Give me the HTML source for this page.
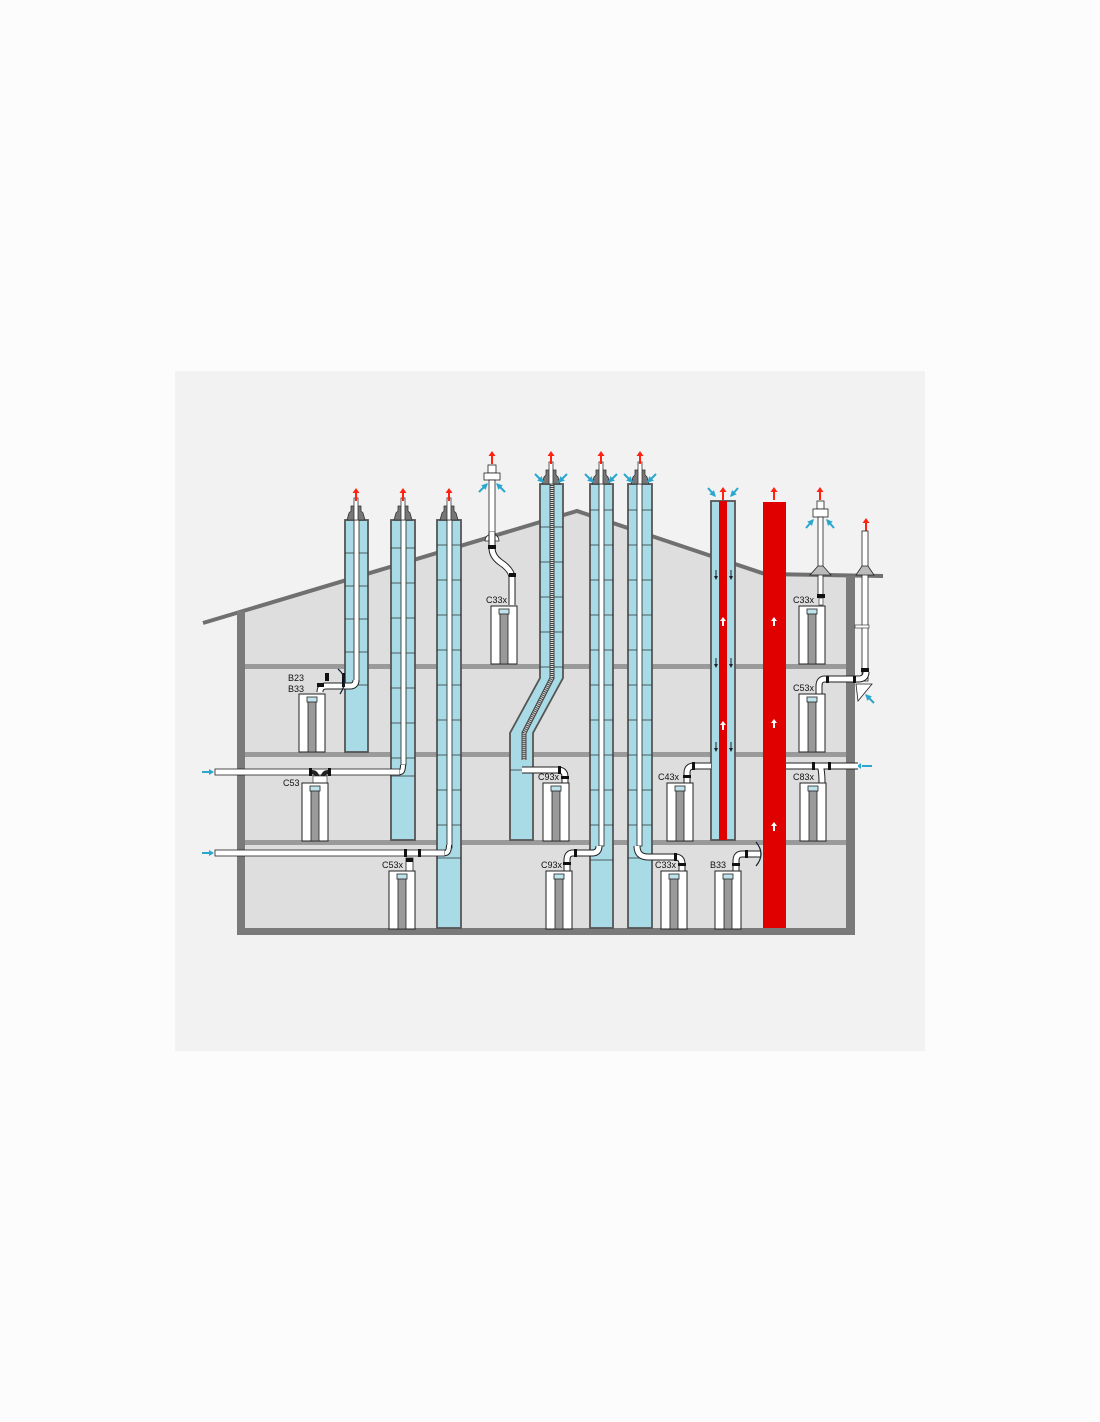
<!DOCTYPE html>
<html><head><meta charset="utf-8"><style>
html,body{margin:0;padding:0;background:#fcfcfc;}
svg{display:block}
text{font-family:"Liberation Sans",sans-serif;font-size:9px;fill:#111}
</style></head><body>
<svg width="1100" height="1422" viewBox="0 0 1100 1422" xmlns="http://www.w3.org/2000/svg">
<defs>
<marker id="bh" viewBox="0 0 10 10" refX="8" refY="5" markerWidth="3.2" markerHeight="3.2" orient="auto"><path d="M0 0 L10 5 L0 10 Z" fill="#2aa7cf"/></marker>
<g id="boiler">
<rect x="0" y="0" width="26" height="58" fill="#fff" stroke="#222" stroke-width="1"/>
<rect x="9" y="6" width="8" height="52" fill="#9a9a9a" stroke="#222" stroke-width="0.8"/>
<rect x="8" y="3" width="10" height="5" fill="#bfe3ea" stroke="#222" stroke-width="0.8"/>
</g>
<g id="cap">
<path d="M-9 0 L-7 -7 L-5 -9 L-5 -14 L5 -14 L5 -9 L7 -7 L9 0 Z" fill="#777" stroke="#333" stroke-width="0.8"/>
<rect x="-2" y="-22" width="4" height="22" fill="#fff" stroke="#333" stroke-width="0.8"/>
</g>
<g id="rup"><line x1="0" y1="12" x2="0" y2="3" stroke="#f21" stroke-width="2"/><path d="M-3.5 4 L0 -1 L3.5 4 Z" fill="#f21"/></g>
<g id="wup"><line x1="0" y1="8" x2="0" y2="2" stroke="#fff" stroke-width="2"/><path d="M-3 3 L0 -1 L3 3 Z" fill="#fff"/></g>
<g id="dn"><line x1="0" y1="0" x2="0" y2="7" stroke="#222" stroke-width="1"/><path d="M-2 6 L0 10 L2 6 Z" fill="#222"/></g>
</defs>

<rect x="175" y="371" width="750" height="680" fill="#f2f2f2"/>

<path d="M241 612 L577 511 L770 574 L851 574 L851 932 L241 932 Z" fill="#dedede"/>
<polyline points="203,623 577,511 765,574 883,576" fill="none" stroke="#707070" stroke-width="4"/>
<rect x="237" y="611" width="8" height="324" fill="#7a7a7a"/>
<rect x="846" y="576" width="9" height="359" fill="#7a7a7a"/>
<rect x="237" y="928" width="618" height="7" fill="#7a7a7a"/>
<rect x="245" y="664" width="601" height="5" fill="#9a9a9a"/>
<rect x="245" y="752" width="601" height="5" fill="#9a9a9a"/>
<rect x="245" y="840" width="601" height="5" fill="#9a9a9a"/>

<g stroke="#555" stroke-width="1.8" fill="#a8dbe6">
<rect x="345" y="520" width="23" height="232"/>
<rect x="391" y="520" width="24" height="320"/>
<rect x="437" y="520" width="24" height="408"/>
<path d="M540 484 L563 484 L563 678 L533 733 L533 840 L510 840 L510 733 L540 678 Z"/>
<rect x="590" y="484" width="23" height="444"/>
<rect x="628" y="484" width="24" height="444"/>
<rect x="711" y="501" width="24" height="339"/>
</g>
<g stroke="#333" stroke-width="0.8">
<line x1="345" y1="553" x2="368" y2="553"/><line x1="345" y1="586" x2="368" y2="586"/><line x1="345" y1="619" x2="368" y2="619"/><line x1="345" y1="652" x2="368" y2="652"/><line x1="345" y1="685" x2="368" y2="685"/>
<line x1="391" y1="548" x2="415" y2="548"/><line x1="391" y1="583" x2="415" y2="583"/><line x1="391" y1="618" x2="415" y2="618"/><line x1="391" y1="653" x2="415" y2="653"/><line x1="391" y1="688" x2="415" y2="688"/><line x1="391" y1="723" x2="415" y2="723"/><line x1="391" y1="758" x2="415" y2="758"/><line x1="391" y1="776" x2="415" y2="776"/>
<line x1="437" y1="545" x2="461" y2="545"/><line x1="437" y1="580" x2="461" y2="580"/><line x1="437" y1="615" x2="461" y2="615"/><line x1="437" y1="650" x2="461" y2="650"/><line x1="437" y1="685" x2="461" y2="685"/><line x1="437" y1="720" x2="461" y2="720"/><line x1="437" y1="755" x2="461" y2="755"/><line x1="437" y1="790" x2="461" y2="790"/><line x1="437" y1="825" x2="461" y2="825"/><line x1="437" y1="858" x2="461" y2="858"/>
<line x1="540" y1="527" x2="563" y2="527"/><line x1="540" y1="562" x2="563" y2="562"/><line x1="540" y1="597" x2="563" y2="597"/><line x1="540" y1="632" x2="563" y2="632"/><line x1="540" y1="667" x2="563" y2="667"/><line x1="510" y1="770" x2="533" y2="770"/>
<line x1="590" y1="510" x2="613" y2="510"/><line x1="590" y1="545" x2="613" y2="545"/><line x1="590" y1="580" x2="613" y2="580"/><line x1="590" y1="615" x2="613" y2="615"/><line x1="590" y1="650" x2="613" y2="650"/><line x1="590" y1="685" x2="613" y2="685"/><line x1="590" y1="720" x2="613" y2="720"/><line x1="590" y1="755" x2="613" y2="755"/><line x1="590" y1="790" x2="613" y2="790"/><line x1="590" y1="825" x2="613" y2="825"/><line x1="590" y1="860" x2="613" y2="860"/>
<line x1="628" y1="510" x2="652" y2="510"/><line x1="628" y1="545" x2="652" y2="545"/><line x1="628" y1="580" x2="652" y2="580"/><line x1="628" y1="615" x2="652" y2="615"/><line x1="628" y1="650" x2="652" y2="650"/><line x1="628" y1="685" x2="652" y2="685"/><line x1="628" y1="720" x2="652" y2="720"/><line x1="628" y1="755" x2="652" y2="755"/><line x1="628" y1="790" x2="652" y2="790"/><line x1="628" y1="825" x2="652" y2="825"/><line x1="628" y1="858" x2="652" y2="858"/>
</g>
<g fill="#fff" stroke="#222" stroke-width="0.8">
<rect x="354" y="510" width="5" height="172"/>
<rect x="401" y="510" width="5" height="255"/>
<rect x="447" y="510" width="5" height="338"/>
<rect x="599" y="474" width="5" height="372"/>
<rect x="637" y="474" width="5" height="372"/>
</g>
<path d="M552 478 L552 678 L524 733 L524 760" fill="none" stroke="#444" stroke-width="5"/>
<path d="M552 478 L552 678 L524 733 L524 760" fill="none" stroke="#ddd" stroke-width="3" stroke-dasharray="1 1"/>
<rect x="719" y="501" width="8" height="339" fill="#e00000"/>
<rect x="763" y="502" width="23" height="426" fill="#e00000"/>

<use href="#cap" x="356" y="520"/><use href="#cap" x="403" y="520"/><use href="#cap" x="449" y="520"/>
<use href="#cap" x="551" y="484"/><use href="#cap" x="601" y="484"/><use href="#cap" x="640" y="484"/>
<use href="#rup" x="356" y="489"/><use href="#rup" x="403" y="489"/><use href="#rup" x="449" y="489"/>
<use href="#rup" x="492" y="452"/><use href="#rup" x="551" y="452"/><use href="#rup" x="601" y="452"/><use href="#rup" x="640" y="452"/>
<use href="#rup" x="723" y="488"/><use href="#rup" x="774" y="488"/><use href="#rup" x="820" y="488"/><use href="#rup" x="866" y="519"/>

<!-- blue intake arrows -->
<g stroke="#2aa7cf" stroke-width="2" marker-end="url(#bh)">
<line x1="535" y1="474" x2="543" y2="482"/><line x1="567" y1="474" x2="559" y2="482"/>
<line x1="585" y1="474" x2="593" y2="482"/><line x1="617" y1="474" x2="609" y2="482"/>
<line x1="624" y1="474" x2="632" y2="482"/><line x1="656" y1="474" x2="648" y2="482"/>
<line x1="479" y1="492" x2="487" y2="484"/><line x1="505" y1="492" x2="497" y2="484"/>
<line x1="708" y1="488" x2="715" y2="496"/><line x1="738" y1="488" x2="731" y2="496"/>
<line x1="806" y1="528" x2="813" y2="520"/><line x1="834" y1="528" x2="827" y2="520"/>
<line x1="874" y1="703" x2="866" y2="695"/>
</g>
<use href="#wup" x="723" y="618"/><use href="#wup" x="723" y="722"/>
<use href="#wup" x="774" y="618"/><use href="#wup" x="774" y="720"/><use href="#wup" x="774" y="823"/>
<use href="#dn" x="716" y="570"/><use href="#dn" x="731" y="570"/><use href="#dn" x="716" y="658"/><use href="#dn" x="731" y="658"/><use href="#dn" x="716" y="742"/><use href="#dn" x="731" y="742"/>

<g fill="#fff" stroke="#222" stroke-width="0.8">
<rect x="488" y="465" width="8" height="8"/>
<rect x="484" y="473" width="16" height="7"/>
<rect x="489" y="480" width="6" height="52"/>
<path d="M485 541 A7 7 0 0 1 499 541 Z"/>
</g>
<path d="M492 532 L492 548 Q492 556 500 562 Q512 570 512 578 L512 605" fill="none" stroke="#222" stroke-width="7"/>
<path d="M492 532 L492 548 Q492 556 500 562 Q512 570 512 578 L512 605" fill="none" stroke="#fff" stroke-width="5"/>
<rect x="488" y="545" width="8" height="4" fill="#111"/><rect x="509" y="573" width="7" height="4" fill="#111"/>

<g fill="#fff" stroke="#222" stroke-width="0.8">
<rect x="817" y="501" width="7" height="8"/>
<rect x="813" y="509" width="15" height="8"/>
<rect x="818" y="517" width="5" height="78"/>
<path d="M810 575 L831 575 L823 566 L818 566 Z" fill="#bbb"/>
<rect x="862" y="531" width="6" height="150"/>
<path d="M856 575 L874 575 L868 566 L862 566 Z" fill="#bbb"/>
<path d="M856 684 L872 684 L858 701 Z" fill="#fff"/>
</g>
<rect x="817" y="594" width="8" height="4" fill="#111"/>
<rect x="855" y="625" width="14" height="3" fill="#fff" stroke="#222" stroke-width="0.6"/>
<rect x="861" y="668" width="8" height="4" fill="#111"/>
<path d="M866 672 Q866 679 858 679 L825 679 Q819 679 819 686 L819 695" fill="none" stroke="#222" stroke-width="7"/>
<path d="M866 672 Q866 679 858 679 L825 679 Q819 679 819 686 L819 695" fill="none" stroke="#fff" stroke-width="5"/>
<rect x="826" y="676" width="3" height="7" fill="#111"/><rect x="853" y="676" width="3" height="7" fill="#111"/>

<rect x="215" y="769" width="185" height="6" fill="#fff" stroke="#222" stroke-width="0.8"/>
<rect x="215" y="850" width="230" height="6" fill="#fff" stroke="#222" stroke-width="0.8"/>
<path d="M400 772 Q403 772 403 765" fill="none" stroke="#222" stroke-width="6"/>
<path d="M400 772 Q403 772 403 765" fill="none" stroke="#fff" stroke-width="4"/>
<path d="M445 853 Q449 853 449 845" fill="none" stroke="#222" stroke-width="6"/>
<path d="M445 853 Q449 853 449 845" fill="none" stroke="#fff" stroke-width="4"/>
<rect x="309" y="768" width="3" height="8" fill="#111"/><rect x="328" y="768" width="3" height="8" fill="#111"/>
<path d="M312 772 Q318 772 318 782 M328 772 Q322 772 322 782" fill="none" stroke="#222" stroke-width="4"/>
<rect x="313" y="776" width="14" height="7" fill="#fff" stroke="#222" stroke-width="0.6"/>
<rect x="404" y="849" width="3" height="8" fill="#111"/><rect x="418" y="849" width="3" height="8" fill="#111"/>
<rect x="406" y="858" width="7" height="13" fill="#fff" stroke="#222" stroke-width="0.8"/><rect x="406" y="858" width="7" height="4" fill="#111"/>
<g stroke="#2aa7cf" stroke-width="2"><line x1="202" y1="772" x2="210" y2="772"/><line x1="202" y1="853" x2="210" y2="853"/><line x1="862" y1="766" x2="872" y2="766"/></g>
<path d="M209 769 L214 772 L209 775 Z M209 850 L214 853 L209 856 Z M861 763 L857 766 L861 769 Z" fill="#2aa7cf"/>

<path d="M356 680 Q356 686 350 686 L326 686 Q320 686 320 692" fill="none" stroke="#222" stroke-width="7"/>
<path d="M356 680 Q356 686 350 686 L326 686 Q320 686 320 692" fill="none" stroke="#fff" stroke-width="5"/>
<rect x="325" y="673" width="4" height="8" fill="#111"/><rect x="317" y="683" width="7" height="4" fill="#111"/><rect x="342" y="673" width="3" height="14" fill="#111"/>
<path d="M338 669 Q350 679 340 694" fill="none" stroke="#123" stroke-width="1.2"/>

<g fill="none" stroke="#222" stroke-width="7">
<path d="M522 770 L558 770 Q565 770 565 777 L565 783"/>
<path d="M599 846 Q599 853 592 853 L573 853 Q567 853 567 860 L567 871"/>
<path d="M711 766 L694 766 Q687 766 687 773 L687 783"/>
<path d="M637 846 Q637 857 648 857 L675 857 Q682 857 682 864 L682 871"/>
<path d="M760 854 L742 854 Q736 854 736 861 L736 871"/>
<path d="M786 766 L858 766 M820 766 Q822 770 822 783"/>
</g>
<g fill="none" stroke="#fff" stroke-width="5">
<path d="M522 770 L558 770 Q565 770 565 777 L565 783"/>
<path d="M599 846 Q599 853 592 853 L573 853 Q567 853 567 860 L567 871"/>
<path d="M711 766 L694 766 Q687 766 687 773 L687 783"/>
<path d="M637 846 Q637 857 648 857 L675 857 Q682 857 682 864 L682 871"/>
<path d="M760 854 L742 854 Q736 854 736 861 L736 871"/>
<path d="M786 766 L858 766 M820 766 Q822 770 822 783"/>
</g>
<g fill="#111">
<rect x="558" y="766" width="3" height="8"/><rect x="561" y="776" width="8" height="3"/>
<rect x="574" y="849" width="3" height="8"/><rect x="563" y="862" width="8" height="3"/>
<rect x="692" y="762" width="3" height="8"/><rect x="683" y="775" width="8" height="3"/>
<rect x="674" y="853" width="3" height="8"/><rect x="678" y="863" width="8" height="3"/>
<rect x="745" y="850" width="3" height="8"/><rect x="732" y="863" width="8" height="3"/>
<rect x="812" y="762" width="3" height="8"/><rect x="828" y="762" width="3" height="8"/>
</g>
<path d="M756 842 Q766 854 756 866" fill="none" stroke="#123" stroke-width="1.2"/>
<rect x="819" y="598" width="4" height="7" fill="#fff" stroke="#222" stroke-width="0.6"/>

<use href="#boiler" x="299" y="694"/>
<use href="#boiler" x="302" y="783"/>
<use href="#boiler" x="389" y="871"/>
<use href="#boiler" x="491" y="606"/>
<use href="#boiler" x="543" y="783"/>
<use href="#boiler" x="546" y="871"/>
<use href="#boiler" x="667" y="783"/>
<use href="#boiler" x="661" y="871"/>
<use href="#boiler" x="715" y="871"/>
<use href="#boiler" x="799" y="606"/>
<use href="#boiler" x="799" y="694"/>
<use href="#boiler" x="800" y="783"/>

<text x="288" y="681">B23</text>
<text x="288" y="692">B33</text>
<text x="283" y="786">C53</text>
<text x="382" y="868">C53x</text>
<text x="486" y="603">C33x</text>
<text x="538" y="780">C93x</text>
<text x="541" y="868">C93x</text>
<text x="658" y="780">C43x</text>
<text x="655" y="868">C33x</text>
<text x="710" y="868">B33</text>
<text x="793" y="603">C33x</text>
<text x="793" y="691">C53x</text>
<text x="793" y="780">C83x</text>
</svg>
</body></html>
